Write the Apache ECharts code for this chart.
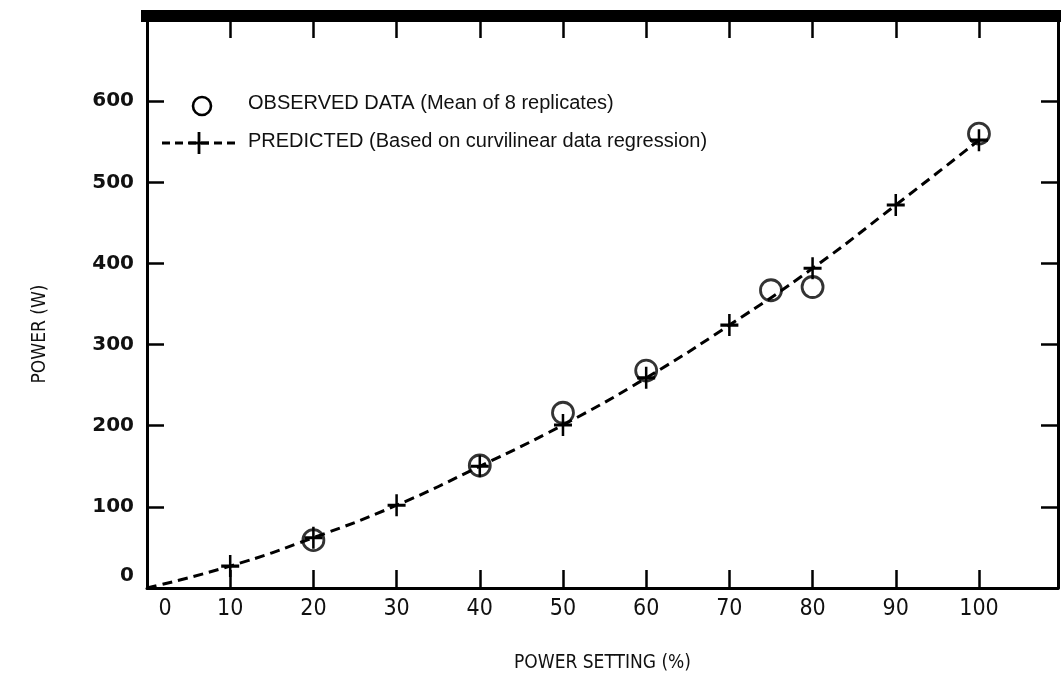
<!DOCTYPE html>
<html>
<head>
<meta charset="utf-8">
<script src="https://cdn.jsdelivr.net/npm/echarts@6/dist/echarts.min.js"></script>
<style>
html,body{margin:0;padding:0;background:#fff;}
#chart{width:1061px;height:678px;}
</style>
</head>
<body>
<div id="chart"></div>
<script>
// Power setting (%) values
const predictedX = [0, 10, 20, 30, 40, 50, 60, 70, 80, 90, 100];
const predictedY = [0, 27, 62, 102, 150, 201, 259, 324, 394, 472, 552];
const observedX = [20, 40, 50, 60, 75, 80, 100];
const observedY = [59, 151, 216, 268, 367, 371, 560];
const xTickLabels = ['0', '10', '20', '30', '40', '50', '60', '70', '80', '90', '100'];
const yTickLabels = ['0', '100', '200', '300', '400', '500', '600'];
const legendNames = ['OBSERVED DATA (Mean of 8 replicates)', 'PREDICTED (Based on curvilinear data regression)'];

const PLUS = 'path://M8.6,0h2.8v8.6h8.6v2.8h-8.6v8.6h-2.8v-8.6h-8.6v-2.8h8.6z';
const XMAX = 109.5, YMAX = 705;

const predictedData = predictedX.map((x, i) => {
  const d = { value: [x, predictedY[i]] };
  if (x === 0) d.symbol = 'none';
  return d;
});
const observedData = observedX.map((x, i) => [x, observedY[i]]);

const xLab = v => {
  const s = String(v);
  if (xTickLabels.indexOf(s) < 0) return '';
  return s === '0' ? '{z|0}' : s;
};
const yLab = v => {
  const s = String(v);
  if (yTickLabels.indexOf(s) < 0) return '';
  return s === '0' ? '{z|0}' : s;
};

const narrow = "'Liberation Sans Narrow', 'DejaVu Sans Condensed', 'Liberation Sans', sans-serif";
const legendFont = "20px 'Liberation Sans', Arial, sans-serif";

const chart = echarts.init(document.getElementById('chart'), null, { renderer: 'canvas' });
chart.setOption({
  backgroundColor: '#fff',
  animation: false,
  grid: { left: 147, right: 2, top: 16, bottom: 87 },
  xAxis: [{
    type: 'value', min: 0, max: XMAX, interval: 10, position: 'bottom',
    name: 'POWER SETTING (%)', nameLocation: 'middle', nameGap: 66,
    nameTextStyle: { fontFamily: narrow, fontSize: 19, color: '#111' },
    axisLine: { show: true, onZero: false, lineStyle: { color: '#000', width: 3 } },
    axisTick: { show: true, inside: true, length: 18, lineStyle: { color: '#000', width: 2.5 } },
    axisLabel: { formatter: xLab, margin: 10, color: '#111', fontFamily: narrow, fontSize: 23,
      rich: { z: { fontFamily: narrow, fontSize: 23, color: '#111', padding: [0, 0, 0, 36] } } },
    splitLine: { show: false }
  }, {
    type: 'value', min: 0, max: XMAX, interval: 10, position: 'top',
    axisLine: { show: true, onZero: false, lineStyle: { color: '#000', width: 12, cap: 'square' } },
    axisTick: { show: true, inside: true, length: 22, lineStyle: { color: '#000', width: 2.5 } },
    axisLabel: { show: false },
    splitLine: { show: false }
  }],
  yAxis: [{
    type: 'value', min: 0, max: YMAX, interval: 100, position: 'left',
    name: 'POWER (W)', nameLocation: 'middle', nameGap: 97, nameRotate: 90,
    nameTextStyle: { fontFamily: narrow, fontSize: 19, color: '#111', padding: [0, 64, 0, 0] },
    axisLine: { show: true, onZero: false, lineStyle: { color: '#000', width: 3 } },
    axisTick: { show: true, inside: true, length: 17, lineStyle: { color: '#000', width: 2.5 } },
    axisLabel: { formatter: yLab, margin: 13, color: '#111', fontFamily: "'DejaVu Sans', sans-serif", fontWeight: 'bold', fontSize: 20,
      rich: { z: { fontFamily: "'DejaVu Sans', sans-serif", fontWeight: 'bold', fontSize: 20, color: '#111', padding: [0, 0, 24, 0] } } },
    splitLine: { show: false }
  }, {
    type: 'value', min: 0, max: YMAX, interval: 100, position: 'right',
    axisLine: { show: true, onZero: false, lineStyle: { color: '#000', width: 3 } },
    axisTick: { show: true, inside: true, length: 17, lineStyle: { color: '#000', width: 2.5 } },
    axisLabel: { show: false },
    splitLine: { show: false }
  }],
  series: [{
    name: legendNames[1],
    type: 'line',
    data: predictedData,
    smooth: 0.5,
    symbol: PLUS,
    symbolSize: [18, 22],
    showAllSymbol: true,
    itemStyle: { color: '#000' },
    lineStyle: { color: '#000', width: 3, type: [10, 6] },
    z: 3
  }, {
    name: legendNames[0],
    type: 'scatter',
    data: observedData,
    symbol: 'circle',
    symbolSize: 21,
    itemStyle: { color: 'rgba(0,0,0,0)', borderColor: '#000', borderWidth: 2.8 },
    z: 4
  }],
  graphic: [
    { type: 'circle', shape: { cx: 202, cy: 106, r: 9 }, style: { fill: 'none', stroke: '#000', lineWidth: 2.6 } },
    { type: 'text', left: 248, top: 93, style: { text: legendNames[0], font: legendFont, fill: '#111' } },
    { type: 'line', shape: { x1: 162, y1: 143, x2: 236, y2: 143 }, style: { stroke: '#000', lineWidth: 2.8, lineDash: [8, 5] } },
    { type: 'rect', shape: { x: 189, y: 141.6, width: 20, height: 2.8 }, style: { fill: '#000' } },
    { type: 'rect', shape: { x: 197.6, y: 132, width: 2.8, height: 22 }, style: { fill: '#000' } },
    { type: 'text', left: 248, top: 131, style: { text: legendNames[1], font: legendFont, fill: '#111' } }
  ]
});
</script>
</body>
</html>
